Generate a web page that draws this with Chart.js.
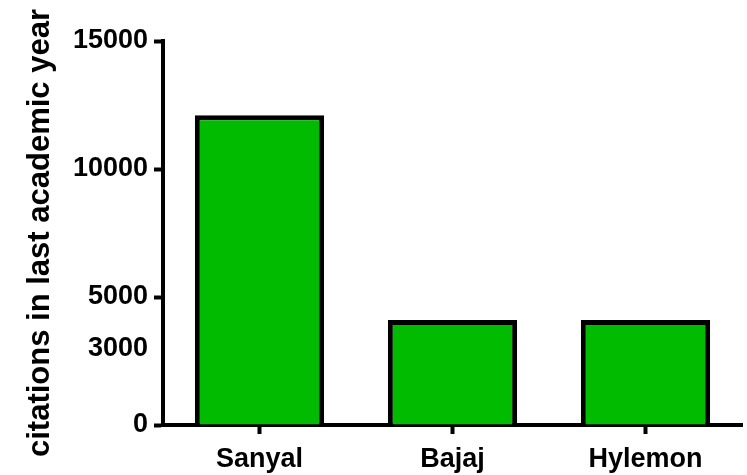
<!DOCTYPE html>
<html>
<head>
<meta charset="utf-8">
<script src="https://cdn.jsdelivr.net/npm/chart.js@4"></script>
<style>
  html, body { margin: 0; padding: 0; background: #fff; }
  #wrap { width: 747px; height: 475px; }
</style>
</head>
<body>
<div id="wrap"><canvas id="bar-chart"></canvas></div>
<script>
var categories = ['Sanyal', 'Bajaj', 'Hylemon'];
var citations = [12100, 4100, 4100];
var yTicks = [0, 3000, 5000, 10000, 15000];
var yTitle = 'citations in last academic year';

var font = { family: 'Arial, "Liberation Sans", sans-serif', size: 27, weight: 'bold' };

new Chart(document.getElementById('bar-chart'), {
    type: 'bar',
    data: {
        labels: categories,
        datasets: [{
            label: 'citations',
            data: citations,
            backgroundColor: '#00bb00',
            borderColor: '#000',
            borderWidth: 5,
            borderSkipped: 'bottom',
            categoryPercentage: 0.67,
            barPercentage: 1
        }]
    },
    options: {
        responsive: true,
        maintainAspectRatio: false,
        animation: false,
        layout: { padding: { top: 41, right: 5, left: 0, bottom: 0 } },
        plugins: {
            legend: { display: false },
            tooltip: { enabled: false }
        },
        scales: {
            x: {
                grid: {
                    offset: false,
                    drawOnChartArea: false,
                    drawTicks: true,
                    tickLength: 9,
                    tickWidth: 4,
                    tickColor: '#000'
                },
                border: { display: true, color: '#000', width: 4 },
                ticks: { color: '#000', font: font, padding: 9, maxRotation: 0 },
                afterFit: function (scale) { scale.height = 50; }
            },
            y: {
                min: 0,
                max: 15000,
                afterBuildTicks: function (scale) {
                    scale.ticks = yTicks.map(function (v) { return { value: v }; });
                },
                grid: {
                    drawOnChartArea: false,
                    drawTicks: true,
                    tickLength: 9,
                    tickWidth: 4,
                    tickColor: function (c) {
                        return c.tick && c.tick.value === 3000 ? 'rgba(0,0,0,0)' : '#000';
                    }
                },
                border: { display: true, color: '#000', width: 4 },
                ticks: {
                    color: '#000',
                    font: font,
                    padding: 6,
                    callback: function (v) { return String(v); }
                },
                title: {
                    display: true,
                    text: yTitle,
                    color: '#000',
                    font: { family: font.family, size: 31, weight: 'bold' },
                    padding: { top: 22, bottom: 0 }
                },
                afterFit: function (scale) { scale.width = 163; }
            }
        }
    }
});
</script>
</body>
</html>
